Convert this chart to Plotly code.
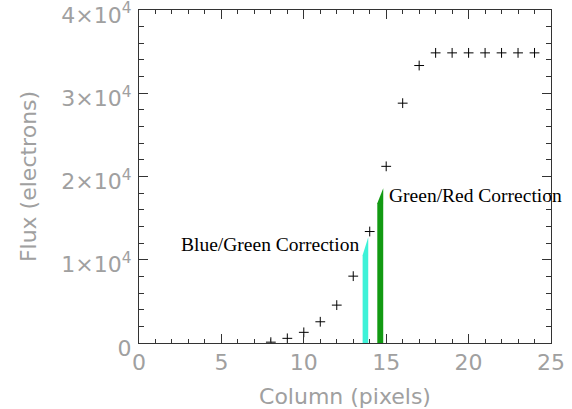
import plotly.graph_objects as go

# Data
columns = [8, 9, 10, 11, 12, 13, 14, 15, 16, 17, 18, 19, 20, 21, 22, 23, 24]
flux = [100, 560, 1280, 2550, 4550, 8030, 13390, 21220, 28810, 33330,
        34850, 34850, 34850, 34850, 34850, 34850, 34850]

blue_green_x = [13.57, 13.57, 13.91, 13.91, 13.57]
blue_green_y = [0, 10550, 12710, 0, 0]
green_red_x = [14.46, 14.46, 14.82, 14.82, 14.46]
green_red_y = [0, 16790, 18590, 0, 0]

y_tickvals = [0, 10000, 20000, 30000, 40000]
y_ticktext = ["0", "1×10<sup>4</sup>", "2×10<sup>4</sup>", "3×10<sup>4</sup>", "4×10<sup>4</sup>"]
x_tickvals = [0, 5, 10, 15, 20, 25]
x_ticktext = ["0", "5", "10", "15", "20", "25"]

label_font = dict(family="DejaVu Sans", size=22, color="#a0a0a0")

fig = go.Figure()
fig.add_trace(go.Scatter(x=blue_green_x, y=blue_green_y, fill="toself", mode="lines",
                         line=dict(width=0, color="#3ef2d8"), fillcolor="#3ef2d8",
                         hoverinfo="skip"))
fig.add_trace(go.Scatter(x=green_red_x, y=green_red_y, fill="toself", mode="lines",
                         line=dict(width=0, color="#129a12"), fillcolor="#129a12",
                         hoverinfo="skip"))
fig.add_trace(go.Scatter(x=columns, y=flux, mode="markers",
                         marker=dict(symbol="cross-thin", size=7,
                                     line=dict(width=1, color="black"), color="black")))

fig.add_annotation(x=2.43, y=11870, xref="x", yref="y", text="Blue/Green Correction",
                   showarrow=False, xanchor="left", yanchor="middle",
                   font=dict(family="Liberation Serif", size=19.5, color="black"))
fig.add_annotation(x=15.05, y=17750, xref="x", yref="y", text="Green/Red Correction",
                   showarrow=False, xanchor="left", yanchor="middle",
                   font=dict(family="Liberation Serif", size=19.5, color="black"))

axis_common = dict(showline=True, linecolor="#333", linewidth=1, mirror="ticks",
                   ticks="inside", ticklen=9, tickcolor="#333", tickwidth=1,
                   showgrid=False, zeroline=False, tickfont=label_font,
                   automargin=False, ticklabeloverflow="allow")

fig.update_xaxes(range=[0, 25], tickvals=x_tickvals, ticktext=x_ticktext,
                 minor=dict(dtick=1, ticks="inside", ticklen=4, tickcolor="#333"),
                 title=dict(text="Column (pixels)", font=label_font, standoff=19),
                 **axis_common)
fig.update_yaxes(range=[0, 40000], tickvals=y_tickvals, ticktext=y_ticktext,
                 minor=dict(dtick=2000, ticks="inside", ticklen=5, tickcolor="#333"),
                 ticklabelshift=5, ticklabelstandoff=2,
                 title=dict(text="Flux (electrons)", font=label_font, standoff=18),
                 **axis_common)

fig.update_layout(width=572, height=409, showlegend=False,
                  margin=dict(l=139, r=21, t=9.5, b=66),
                  plot_bgcolor="white", paper_bgcolor="white")

fig.write_html("out.html", config={"displayModeBar": False},
               post_script="document.body.style.margin='0';document.body.style.overflow='hidden';")
